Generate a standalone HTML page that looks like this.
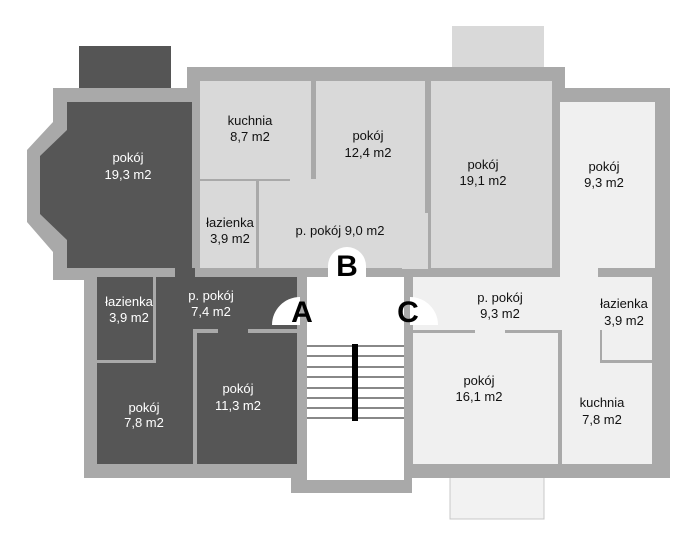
<!DOCTYPE html>
<html><head><meta charset="utf-8"><style>
html,body{margin:0;padding:0;background:#fff;}
svg{display:block;}
text{font-family:"Liberation Sans","DejaVu Sans",sans-serif;font-size:13px;text-anchor:middle;}
.d{fill:#fff}.l{fill:#111}
.big{font-size:30px;font-weight:bold;fill:#000}
</style></head><body>
<svg width="700" height="543" viewBox="0 0 700 543" xmlns="http://www.w3.org/2000/svg">
<rect width="700" height="543" fill="#fff"/>
<rect x="79" y="46" width="92" height="44" fill="#555"/>
<rect x="452" y="26" width="92" height="44" fill="#d9d9d9"/>
<rect x="450" y="476" width="94" height="43" fill="#f2f2f2" stroke="#c8c8c8" stroke-width="1"/>
<polygon points="53,88 200,88 200,280 84,280 84,478 300,478 300,280 53,280 53,252 27,222 27,150 53,122" fill="#a9a9a9"/>
<rect x="84" y="266" width="220" height="212" fill="#a9a9a9"/>
<rect x="187" y="67" width="378" height="212" fill="#a9a9a9"/>
<rect x="553" y="88" width="117" height="390" fill="#a9a9a9"/>
<rect x="291" y="276" width="121" height="217" fill="#a9a9a9"/>
<rect x="400" y="266" width="160" height="212" fill="#a9a9a9"/>
<polygon points="67,102 192,102 192,268 67,268 67,240 40,214 40,156 67,130" fill="#565656"/>
<rect x="200" y="81" width="111" height="98" fill="#d9d9d9"/>
<rect x="200" y="181" width="56" height="87" fill="#d9d9d9"/>
<rect x="259" y="181" width="166" height="87" fill="#d9d9d9"/>
<rect x="316" y="81" width="109" height="132" fill="#d9d9d9"/>
<rect x="290" y="179" width="30" height="4" fill="#d9d9d9"/>
<rect x="402" y="213" width="26" height="56" fill="#d9d9d9"/>
<rect x="431" y="81" width="121" height="187" fill="#d9d9d9"/>
<rect x="560" y="102" width="95" height="166" fill="#f0f0f0"/>
<rect x="97" y="277" width="56" height="83" fill="#565656"/>
<rect x="97" y="363" width="96" height="101" fill="#565656"/>
<rect x="156" y="277" width="141" height="52" fill="#565656"/>
<rect x="156" y="320" width="37" height="43" fill="#565656"/>
<rect x="218" y="320" width="30" height="14" fill="#565656"/>
<rect x="197" y="333" width="100" height="131" fill="#565656"/>
<rect x="175" y="268" width="20" height="12" fill="#565656"/>
<rect x="307" y="277" width="97" height="203" fill="#fff"/>
<g stroke="#888" stroke-width="2">
<line x1="307" y1="346" x2="404" y2="346"/><line x1="307" y1="356" x2="404" y2="356"/>
<line x1="307" y1="367" x2="404" y2="367"/><line x1="307" y1="377" x2="404" y2="377"/>
<line x1="307" y1="388" x2="404" y2="388"/><line x1="307" y1="398" x2="404" y2="398"/>
<line x1="307" y1="408" x2="404" y2="408"/><line x1="307" y1="418" x2="404" y2="418"/>
</g>
<rect x="352" y="344" width="6" height="77" fill="#000"/>
<rect x="413" y="277" width="239" height="53" fill="#f0f0f0"/>
<rect x="560" y="266" width="38" height="14" fill="#f0f0f0"/>
<rect x="413" y="333" width="145" height="131" fill="#f0f0f0"/>
<rect x="475" y="326" width="30" height="10" fill="#f0f0f0"/>
<rect x="602" y="277" width="50" height="83" fill="#f0f0f0"/>
<rect x="562" y="326" width="38" height="40" fill="#f0f0f0"/>
<rect x="562" y="363" width="90" height="101" fill="#f0f0f0"/>
<path d="M272,325 A28,28 0 0 1 300,297 L300,325 Z" fill="#fff"/>
<path d="M328,278 L328,266 A19,19 0 0 1 366,266 L366,278 Z" fill="#fff"/>
<path d="M410,297 A28,28 0 0 1 438,325 L410,325 Z" fill="#fff"/>
<text x="347" y="276" class="big">B</text>
<text x="302" y="322" class="big">A</text>
<text x="408" y="322" class="big">C</text>
<text x="128" y="162" class="d">pokój</text><text x="128" y="179" class="d">19,3 m2</text>
<text x="250" y="125" class="l">kuchnia</text><text x="250" y="141" class="l">8,7 m2</text>
<text x="368" y="140" class="l">pokój</text><text x="368" y="157" class="l">12,4 m2</text>
<text x="483" y="169" class="l">pokój</text><text x="483" y="185" class="l">19,1 m2</text>
<text x="604" y="171" class="l">pokój</text><text x="604" y="187" class="l">9,3 m2</text>
<text x="230" y="227" class="l">łazienka</text><text x="230" y="243" class="l">3,9 m2</text>
<text x="340" y="235" class="l">p. pokój 9,0 m2</text>
<text x="129" y="306" class="d">łazienka</text><text x="129" y="322" class="d">3,9 m2</text>
<text x="211" y="300" class="d">p. pokój</text><text x="211" y="316" class="d">7,4 m2</text>
<text x="144" y="412" class="d">pokój</text><text x="144" y="427" class="d">7,8 m2</text>
<text x="238" y="393" class="d">pokój</text><text x="238" y="410" class="d">11,3 m2</text>
<text x="500" y="302" class="l">p. pokój</text><text x="500" y="318" class="l">9,3 m2</text>
<text x="624" y="308" class="l">łazienka</text><text x="624" y="325" class="l">3,9 m2</text>
<text x="479" y="385" class="l">pokój</text><text x="479" y="401" class="l">16,1 m2</text>
<text x="602" y="407" class="l">kuchnia</text><text x="602" y="424" class="l">7,8 m2</text>
</svg>
</body></html>
